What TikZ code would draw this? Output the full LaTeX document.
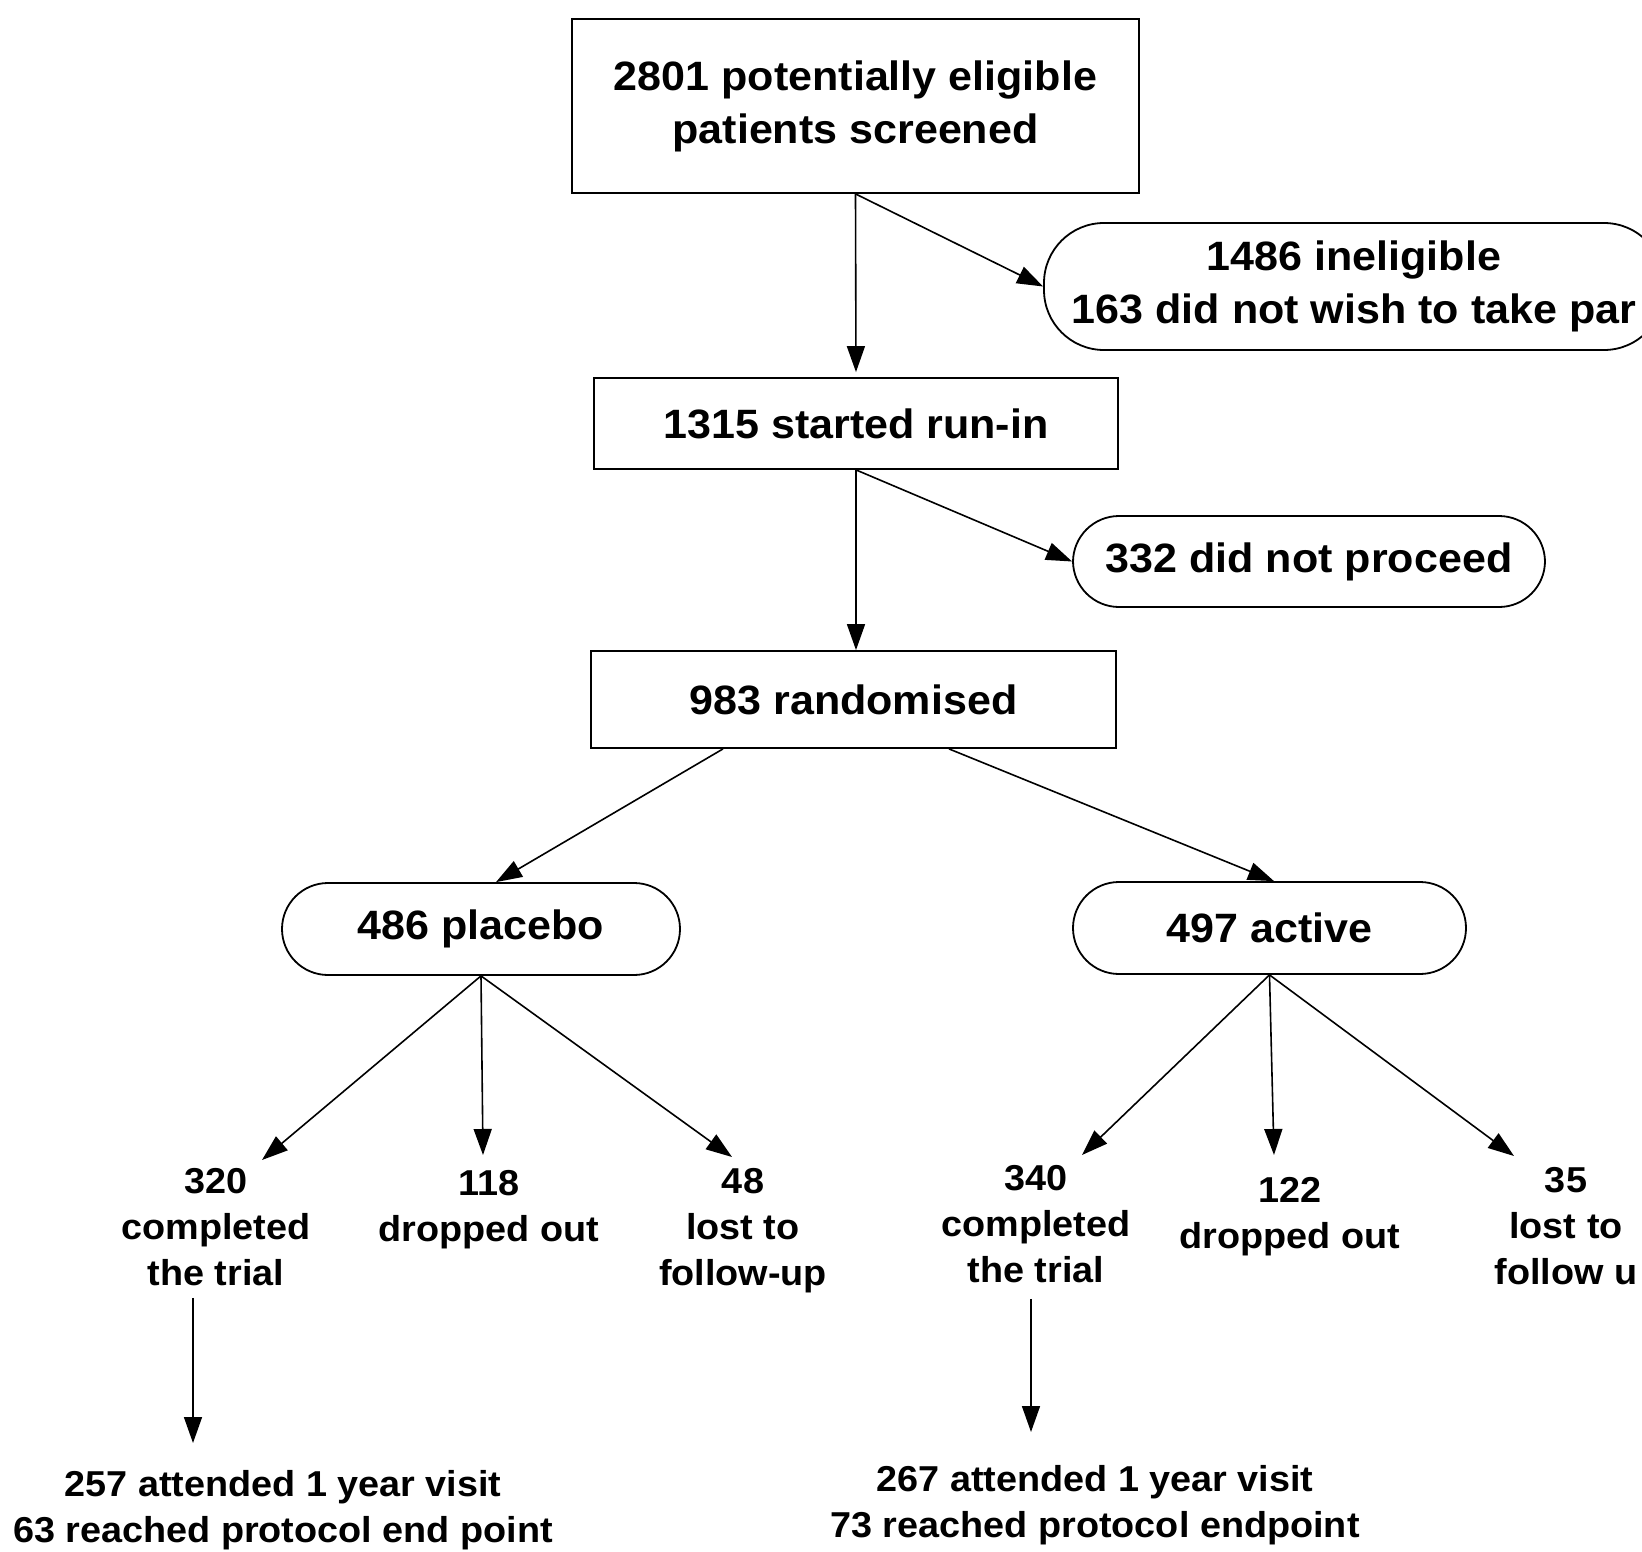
\documentclass[tikz,border=0pt]{standalone}
\usepackage{fontspec}
\setmainfont{Liberation Sans}[FakeStretch=1.05]
\usetikzlibrary{arrows.meta}

\begin{document}
\begin{tikzpicture}[x=1pt, y=-1pt,
  arr/.style={-{Triangle[length=26pt,width=18pt]}, line width=1.6pt},
  sqbox/.style={draw, line width=1.8pt, align=center, inner sep=0pt,
    font=\fontsize{41}{53}\selectfont\bfseries},
  pill/.style={sqbox, rounded corners=46pt},
  lbl/.style={anchor=north, align=center, inner sep=0pt,
    font=\fontsize{36}{46}\selectfont\bfseries}]
\useasboundingbox (0,0) rectangle (1642,1552);
% Boxes
\node[sqbox, minimum width=567pt, minimum height=174pt] (screen) at (855.5,106)
  {2801 potentially eligible\\patients screened};
\node[pill, rounded corners=60pt, minimum width=620pt, minimum height=127pt] (inelig) at (1354,286.5)
  {1486 ineligible\\163 did not wish to take par};
\node[sqbox, minimum width=524pt, minimum height=91pt] (runin) at (856,423.5) {1315 started run-in};
\node[pill, minimum width=472pt, minimum height=91pt] (noproc) at (1309,561.5) {332 did not proceed};
\node[sqbox, minimum width=525pt, minimum height=97pt] (rand) at (853.5,699.5) {983 randomised};
\node[pill, minimum width=398pt, minimum height=92pt] (placebo) at (481,929) {486 placebo};
\node[pill, minimum width=393pt, minimum height=92pt] (active) at (1269.5,928) {497 active};
% Outcomes
\node[lbl] (pcomp) at (216,1168) {320\\completed\\the trial};
\node[lbl] (pdrop) at (489,1170) {118\\dropped out};
\node[lbl] (plost) at (743,1168) {48\\lost to\\follow-up};
\node[lbl] (acomp) at (1036,1165) {340\\completed\\the trial};
\node[lbl] (adrop) at (1290,1177) {122\\dropped out};
\node[lbl] (alost) at (1566,1167) {35\\lost to\\follow u};
\node[lbl] (pend) at (283,1470) {257 attended 1 year visit\\63 reached protocol end point};
\node[lbl] (aend) at (1095,1465) {267 attended 1 year visit\\73 reached protocol endpoint};
% Arrows
\draw[arr, shorten >=5pt] (screen.south) -- (runin.north);
\draw[arr] (screen.south) -- (inelig.west);
\draw[arr] (runin.south) -- (runin.south |- rand.north);
\draw[arr] (runin.south) -- (noproc.west);
\draw[arr] ([xshift=-130.5pt]rand.south) -- ([xshift=15pt]placebo.north);
\draw[arr] ([xshift=95.5pt]rand.south) -- ([xshift=4.5pt]active.north);
\draw[arr] (placebo.south) -- ([xshift=46pt,yshift=8pt]pcomp.north);
\draw[arr] (placebo.south) -- ([xshift=-6pt,yshift=15pt]pdrop.north);
\draw[arr] (placebo.south) -- ([xshift=-11pt,yshift=11pt]plost.north);
\draw[arr] (active.south) -- ([xshift=46pt,yshift=10pt]acomp.north);
\draw[arr] (active.south) -- ([xshift=-16pt,yshift=22pt]adrop.north);
\draw[arr] (active.south) -- ([xshift=-52pt,yshift=11pt]alost.north);
\draw[arr] ([xshift=-23pt,yshift=-12pt]pcomp.south) -- ([xshift=-90pt,yshift=27pt]pend.north);
\draw[arr] ([xshift=-5pt,yshift=-16pt]acomp.south) -- ([xshift=-64pt,yshift=33pt]aend.north);
\end{tikzpicture}
\end{document}
